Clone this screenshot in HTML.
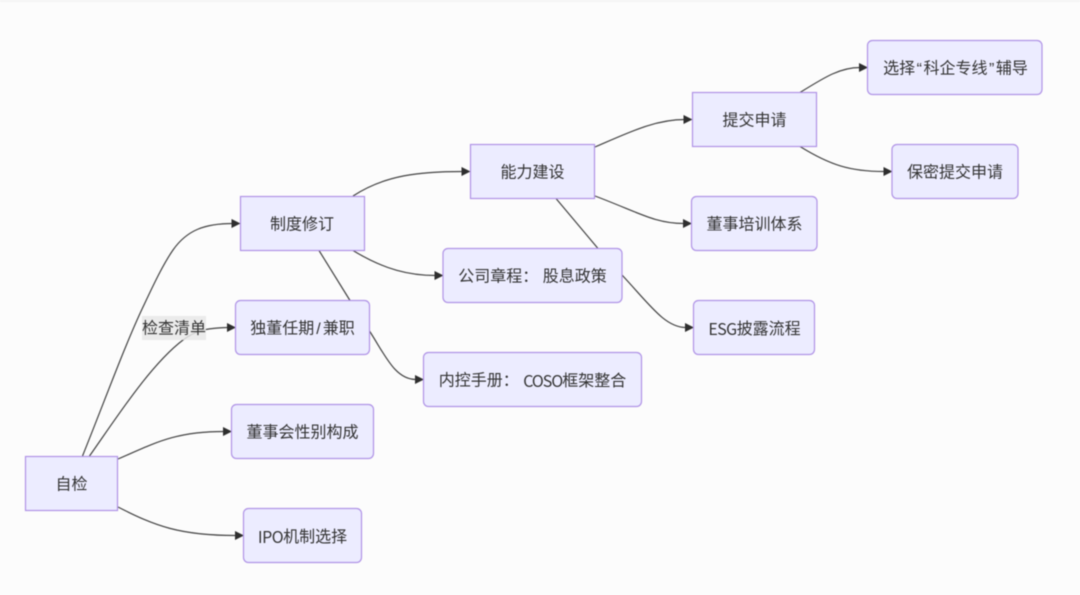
<!DOCTYPE html>
<html><head><meta charset="utf-8"><style>
html,body{margin:0;padding:0;width:1080px;height:595px;overflow:hidden;background:#fcfcfc}
svg{display:block;filter:blur(0.45px)}
text{font-family:"Liberation Sans","Noto Sans CJK SC",sans-serif;font-size:16px;fill:#333;text-anchor:middle;dominant-baseline:central}
.l{font-family:"Noto Sans CJK SC",sans-serif}
.n{fill:#ececff;stroke:#b093e6;stroke-width:1.2}
.e{fill:none;stroke:#444;stroke-width:1.2}
.a{fill:#2e2e2e}
</style></head><body>
<svg width="1080" height="595" viewBox="0 0 1080 595" xmlns="http://www.w3.org/2000/svg">
<rect x="0" y="0" width="1080" height="2" fill="#f4f4f4"/>
<g class="edges">
<path class="e" d="M82.500,456 C105,400 125,345 143,307 C152,288 162,266 173,250 C187,230 205,223.500 233,223.500"/>
<path class="e" d="M89.500,456 C115,420 150,365 183,340 C195,331 205,328 228,327.500"/>
<path class="e" d="M118,459 C155,443 175,431.500 224,431.500"/>
<path class="e" d="M118,507 C155,526 180,535.500 236,535.500"/>
<path class="e" d="M353,196 C385,175 420,171.500 463,171.500"/>
<path class="e" d="M353,250.500 C385,270 410,275.500 436,275.500"/>
<path class="e" d="M319,250.500 L350,300.500"/>
<path class="e" d="M369.500,331 C385,355 395,379.500 416,379.500"/>
<path class="e" d="M595,147 C630,132 655,119.500 685,119.500"/>
<path class="e" d="M595,196 C640,213 655,223.500 684,223.500"/>
<path class="e" d="M556,198.500 L598,248.500"/>
<path class="e" d="M622,275 C650,305 665,327.500 686,327.500"/>
<path class="e" d="M800,92.500 C825,77 840,67.500 860,67.500"/>
<path class="e" d="M800,146.500 C830,165 850,171.500 884,171.500"/>
</g>
<g class="a">
<polygon points="240.500,223.500 231.500,219 231.500,228"/>
<polygon points="236,327.500 227,323 227,332"/>
<polygon points="232,431.500 223,427 223,436"/>
<polygon points="244,535.500 235,531 235,540"/>
<polygon points="470.500,171.500 461.500,167 461.500,176"/>
<polygon points="443.500,275.500 434.500,271 434.500,280"/>
<polygon points="424,379.500 415,375 415,384"/>
<polygon points="692.500,119.500 683.500,115 683.500,124"/>
<polygon points="692,223.500 683,219 683,228"/>
<polygon points="694,327.500 685,323 685,332"/>
<polygon points="868,67.500 859,63 859,72"/>
<polygon points="892.500,171.500 883.500,167 883.500,176"/>
</g>
<rect x="142" y="316" width="64" height="24" fill="#e8e8e8" opacity="0.85"/>
<text x="174" y="329">检查清单</text>
<rect class="n" x="25.500" y="456.500" width="92" height="54"/><text x="71.500" y="485">自检</text>
<rect class="n" x="240.500" y="196.500" width="124" height="54"/><text x="302" y="225">制度修订</text>
<rect class="n" x="235.500" y="300.500" width="134" height="54" rx="5"/><text x="302.500" y="329">独董任期<tspan dx="2" letter-spacing="2">/</tspan>兼职</text>
<rect class="n" x="231.500" y="404.500" width="142" height="54" rx="5"/><text x="302.500" y="433">董事会性别构成</text>
<rect class="n" x="243.500" y="508.500" width="118" height="54" rx="5"/><text x="302.500" y="537"><tspan class="l" letter-spacing="-0.500" dy="-1">IPO</tspan><tspan dy="1">机制选择</tspan></text>
<rect class="n" x="470.500" y="144.500" width="124" height="54"/><text x="532.500" y="173">能力建设</text>
<rect class="n" x="443" y="248.500" width="179" height="54" rx="5"/><text x="532.500" y="277" xml:space="preserve">公司章程： 股息政策</text>
<rect class="n" x="423.500" y="352.500" width="218" height="54" rx="5"/><text x="532.500" y="381" xml:space="preserve">内控手册： <tspan class="l" letter-spacing="-1" dy="-1">COSO</tspan><tspan dy="1">框架整合</tspan></text>
<rect class="n" x="692.500" y="92.500" width="124" height="54"/><text x="754.500" y="121">提交申请</text>
<rect class="n" x="691.500" y="196.500" width="125.500" height="54" rx="5"/><text x="754.500" y="225">董事培训体系</text>
<rect class="n" x="693.500" y="300.500" width="121" height="54" rx="5"/><text x="754.500" y="329"><tspan class="l" letter-spacing="-0.600" dy="-1">ESG</tspan><tspan dy="1">披露流程</tspan></text>
<rect class="n" x="867.500" y="40.500" width="174.500" height="54" rx="5"/><text x="955.500" y="69">选择<tspan dx="1.500" letter-spacing="1.500">“</tspan>科企专线<tspan dx="1.500" letter-spacing="1.500">”</tspan>辅导</text>
<rect class="n" x="892" y="144.500" width="126" height="54" rx="5"/><text x="955" y="173">保密提交申请</text>
</svg>
</body></html>
